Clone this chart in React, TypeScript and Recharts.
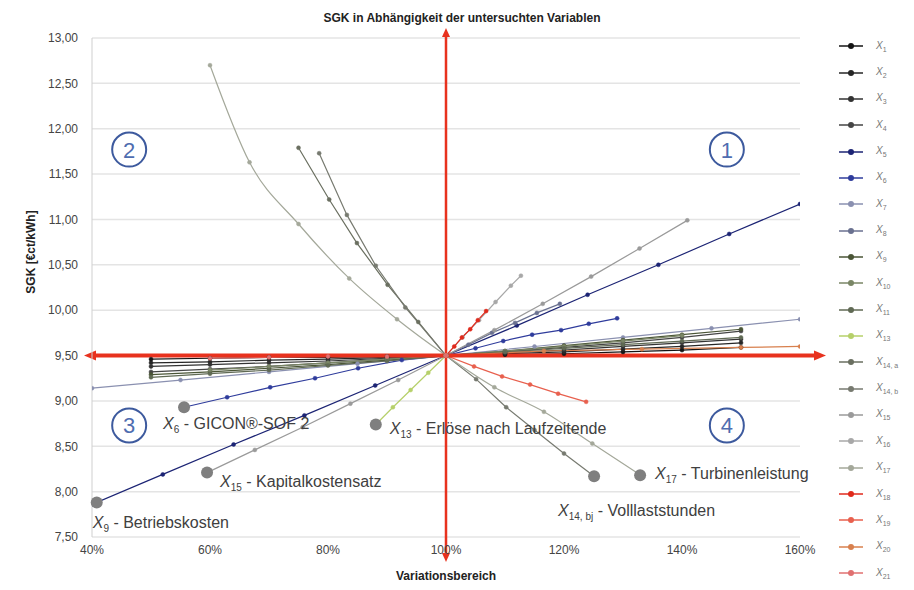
import React from 'react';
import { LineChart, Line, XAxis, YAxis, CartesianGrid, ReferenceLine, ReferenceDot } from 'recharts';

// Variationsbereich (%) and SGK (€ct/kWh)
const X_FLAT = [50, 60, 70, 80, 90, 100, 110, 120, 130, 140, 150];
const X_FLAT_SHORT = [60, 70, 80, 90, 100, 110, 120, 130, 140];
const Y_X1 = [9.46, 9.47, 9.48, 9.48, 9.49, 9.5, 9.51, 9.52, 9.54, 9.56, 9.59];
const Y_X2 = [9.42, 9.43, 9.45, 9.46, 9.48, 9.5, 9.52, 9.54, 9.57, 9.6, 9.64];
const Y_X3 = [9.38, 9.4, 9.42, 9.44, 9.47, 9.5, 9.53, 9.56, 9.6, 9.64, 9.68];
const Y_X4 = [9.32, 9.35, 9.38, 9.42, 9.46, 9.5, 9.54, 9.59, 9.64, 9.7, 9.77];
const Y_X9 = [9.29, 9.32, 9.36, 9.4, 9.45, 9.5, 9.55, 9.61, 9.67, 9.73, 9.79];
const Y_X10 = [9.34, 9.38, 9.42, 9.46, 9.5, 9.55, 9.6, 9.66, 9.72];
const Y_X11 = [9.26, 9.3, 9.34, 9.39, 9.44, 9.5, 9.54, 9.58, 9.62, 9.66, 9.7];

const X_X5 = [40, 52, 64, 76, 88, 100, 112, 124, 136, 148, 160];
const Y_X5 = [7.86, 8.19, 8.52, 8.84, 9.17, 9.5, 9.83, 10.17, 10.5, 10.84, 11.17];
const X_X6 = [55.6, 62.9, 70.2, 77.8, 85.1, 92.5, 100, 105, 109.7, 114.6, 119.5, 124.2, 129];
const Y_X6 = [8.93, 9.04, 9.15, 9.25, 9.36, 9.45, 9.5, 9.58, 9.66, 9.73, 9.78, 9.85, 9.91];
const X_X7 = [40, 55, 70, 85, 100, 115, 130, 145, 160];
const Y_X7 = [9.14, 9.23, 9.32, 9.41, 9.5, 9.6, 9.7, 9.8, 9.9];
const X_X8 = [100, 103.8, 107.8, 111.7, 115.4, 119.3];
const Y_X8 = [9.5, 9.62, 9.75, 9.86, 9.97, 10.07];
const X_X13 = [88.1, 91, 94, 97, 100];
const Y_X13 = [8.74, 8.93, 9.12, 9.31, 9.5];
const X_X14A = [75, 80.2, 84.9, 90.1, 95.3, 100];
const Y_X14A = [11.79, 11.22, 10.74, 10.28, 9.87, 9.5];
const X_X14B = [78.5, 83.2, 88.1, 93.1, 100, 105.1, 110.2, 115, 120, 125.1];
const Y_X14B = [11.73, 11.05, 10.49, 10.03, 9.5, 9.24, 8.93, 8.68, 8.42, 8.17];
const X_X15 = [59.5, 67.6, 75.7, 83.8, 91.9, 100, 108.2, 116.4, 124.6, 132.8, 140.9];
const Y_X15 = [8.21, 8.46, 8.71, 8.97, 9.23, 9.5, 9.78, 10.07, 10.37, 10.68, 10.99];
const X_X16 = [100, 102.8, 105.6, 108.4, 111, 112.7];
const Y_X16 = [9.5, 9.7, 9.89, 10.09, 10.27, 10.38];
const X_X17 = [60, 66.7, 75, 83.6, 91.7, 100, 108.2, 116.6, 124.8, 133];
const Y_X17 = [12.7, 11.63, 10.95, 10.35, 9.9, 9.5, 9.15, 8.88, 8.53, 8.18];
const X_X18 = [100, 101.4, 102.7, 104.1, 105.4, 106.8];
const Y_X18 = [9.5, 9.6, 9.7, 9.79, 9.89, 9.99];
const X_X19 = [100, 104.75, 109.5, 114.25, 119, 123.75];
const Y_X19 = [9.5, 9.38, 9.27, 9.18, 9.08, 8.99];
const X_X20 = [100, 116.6, 133.2, 150, 160];
const Y_X20 = [9.5, 9.55, 9.57, 9.59, 9.6];
const X_X21 = [60, 70, 80, 90, 100];
const Y_X21 = [9.47, 9.48, 9.49, 9.49, 9.5];

const X_TICKS = [40, 60, 80, 100, 120, 140, 160];
const Y_TICKS = [7.5, 8, 8.5, 9, 9.5, 10, 10.5, 11, 11.5, 12, 12.5, 13];

const toPts = (xs: number[], ys: number[]) => xs.map((x, i) => ({ x, y: ys[i] }));

const SERIES = [
  { sub: '1', color: '#141414', data: toPts(X_FLAT, Y_X1) },
  { sub: '2', color: '#262626', data: toPts(X_FLAT, Y_X2) },
  { sub: '3', color: '#333333', data: toPts(X_FLAT, Y_X3) },
  { sub: '4', color: '#454545', data: toPts(X_FLAT, Y_X4) },
  { sub: '5', color: '#1c2474', data: toPts(X_X5, Y_X5) },
  { sub: '6', color: '#2f3c9c', data: toPts(X_X6, Y_X6) },
  { sub: '7', color: '#8a90b0', data: toPts(X_X7, Y_X7) },
  { sub: '8', color: '#6a7190', data: toPts(X_X8, Y_X8) },
  { sub: '9', color: '#4a5536', data: toPts(X_FLAT, Y_X9) },
  { sub: '10', color: '#7a8666', data: toPts(X_FLAT_SHORT, Y_X10) },
  { sub: '11', color: '#606a54', data: toPts(X_FLAT, Y_X11) },
  { sub: '13', color: '#b6d06a', data: toPts(X_X13, Y_X13) },
  { sub: '14, a', color: '#6a6f60', data: toPts(X_X14A, Y_X14A) },
  { sub: '14, b', color: '#777a70', data: toPts(X_X14B, Y_X14B) },
  { sub: '15', color: '#9a9a9a', data: toPts(X_X15, Y_X15) },
  { sub: '16', color: '#a8a8a8', data: toPts(X_X16, Y_X16) },
  { sub: '17', color: '#a4a89a', data: toPts(X_X17, Y_X17) },
  { sub: '18', color: '#e02a1c', data: toPts(X_X18, Y_X18) },
  { sub: '19', color: '#e8604e', data: toPts(X_X19, Y_X19) },
  { sub: '20', color: '#d8804e', data: toPts(X_X20, Y_X20) },
  { sub: '21', color: '#e07070', data: toPts(X_X21, Y_X21) },
];

const RED = '#e8321e';
const FONT = '"Liberation Sans", Arial, sans-serif';

const HArrow = (p: any) => {
  const y = p.y1;
  const l = Math.min(p.x1, p.x2) - 8;
  const r = Math.max(p.x1, p.x2) + 26;
  return (
    <g>
      <line x1={l + 8} y1={y} x2={r - 8} y2={y} stroke={RED} strokeWidth={4} />
      <polygon points={`${l},${y} ${l + 12},${y - 5} ${l + 12},${y + 5}`} fill={RED} />
      <polygon points={`${r},${y} ${r - 12},${y - 5} ${r - 12},${y + 5}`} fill={RED} />
    </g>
  );
};

const VArrow = (p: any) => {
  const x = p.x1;
  const t = Math.min(p.y1, p.y2) - 10;
  const b = Math.max(p.y1, p.y2) + 25;
  return (
    <g>
      <line x1={x} y1={t + 6} x2={x} y2={b - 6} stroke={RED} strokeWidth={2.5} />
      <polygon points={`${x},${t} ${x - 4},${t + 9} ${x + 4},${t + 9}`} fill={RED} />
      <polygon points={`${x},${b} ${x - 4},${b - 9} ${x + 4},${b - 9}`} fill={RED} />
    </g>
  );
};

const quadrant = (n: string) => (p: any) => (
  <g>
    <circle cx={p.cx} cy={p.cy} r={17} fill="#fff" stroke="#3d5a9e" strokeWidth={2} />
    <text x={p.cx} y={p.cy + 8} textAnchor="middle" fontSize={22} fill="#4f6db0" fontFamily={FONT}>{n}</text>
  </g>
);

const note = (sub: string, text: string, dx: number, dy: number) => (p: any) => (
  <g>
    <circle cx={p.cx} cy={p.cy} r={6} fill="#7f7f7f" />
    <text x={p.cx + dx} y={p.cy + dy} fontSize={16} fill="#404040" fontFamily={FONT}>
      <tspan fontStyle="italic">X</tspan>
      <tspan fontSize={10} dy={4}>{sub}</tspan>
      <tspan dy={-4}>{' - ' + text}</tspan>
    </text>
  </g>
);

export default function App() {
  return (
    <div style={{ position: 'absolute', left: 0, top: 0, width: 914, height: 590, background: '#fff', fontFamily: FONT }}>
      <div style={{ position: 'absolute', left: 0, width: 924, top: 11, textAlign: 'center', fontSize: 12, fontWeight: 'bold', color: '#222' }}>
        SGK in Abhängigkeit der untersuchten Variablen
      </div>
      <div style={{ position: 'absolute', left: 346, width: 200, top: 569, textAlign: 'center', fontSize: 12, fontWeight: 'bold', color: '#222' }}>
        Variationsbereich
      </div>
      <div style={{ position: 'absolute', left: 31, top: 252, transform: 'translate(-50%, -50%) rotate(-90deg)', whiteSpace: 'nowrap', fontSize: 12, fontWeight: 'bold', color: '#222' }}>
        SGK [€ct/kWh]
      </div>
      <LineChart width={914} height={590} margin={{ top: 38, right: 114, bottom: 0, left: 32 }}>
        <CartesianGrid vertical={false} stroke="#e4e4e4" strokeWidth={1.5} />
        <XAxis
          dataKey="x"
          type="number"
          domain={[40, 160]}
          ticks={X_TICKS}
          tickFormatter={(v: number) => `${v}%`}
          height={53}
          axisLine={false}
          tickLine={false}
          tick={{ fontSize: 12, fill: '#444', fontFamily: FONT }}
          allowDataOverflow
        />
        <YAxis
          dataKey="y"
          type="number"
          domain={[7.5, 13]}
          ticks={Y_TICKS}
          tickFormatter={(v: number) => v.toFixed(2).replace('.', ',')}
          width={60}
          axisLine={{ stroke: '#cfcfcf' }}
          tickLine={false}
          tickMargin={8}
          tick={{ fontSize: 12, fill: '#444', fontFamily: FONT }}
          allowDataOverflow
        />
        {SERIES.map((s) => (
          <Line
            key={s.sub}
            data={s.data}
            dataKey="y"
            name={`X${s.sub}`}
            type={s.sub === '17' ? 'monotone' : 'linear'}
            stroke={s.color}
            strokeWidth={1.2}
            dot={{ r: 2, fill: s.color, stroke: s.color, strokeWidth: 0.5 }}
            isAnimationActive={false}
          />
        ))}
        <ReferenceLine y={9.5} shape={HArrow} />
        <ReferenceLine x={100} shape={VArrow} />
        <ReferenceDot x={147.6} y={11.77} r={17} shape={quadrant('1')} />
        <ReferenceDot x={46.3} y={11.77} r={17} shape={quadrant('2')} />
        <ReferenceDot x={46.3} y={8.73} r={17} shape={quadrant('3')} />
        <ReferenceDot x={147.6} y={8.73} r={17} shape={quadrant('4')} />
        <ReferenceDot x={55.6} y={8.93} r={6} shape={note('6', 'GICON®-SOF 2', -21, 22)} />
        <ReferenceDot x={88.1} y={8.74} r={6} shape={note('13', 'Erlöse nach Laufzeitende', 14, 10)} />
        <ReferenceDot x={59.5} y={8.21} r={6} shape={note('15', 'Kapitalkostensatz', 13, 14)} />
        <ReferenceDot x={40.8} y={7.88} r={6} shape={note('9', 'Betriebskosten', -4, 25)} />
        <ReferenceDot x={132.9} y={8.18} r={6} shape={note('17', 'Turbinenleistung', 15, 4)} />
        <ReferenceDot x={125.1} y={8.17} r={6} shape={note('14, bj', 'Volllaststunden', -36, 40)} />
      </LineChart>
      <div style={{ position: 'absolute', left: 836, top: 33, width: 78 }}>
        {SERIES.map((s) => (
          <div key={s.sub} style={{ height: 26.35, display: 'flex', alignItems: 'center' }}>
            <svg width={30} height={10}>
              <line x1={3} y1={5} x2={27} y2={5} stroke={s.color} strokeWidth={1.5} />
              <circle cx={15} cy={5} r={3} fill={s.color} />
            </svg>
            <span style={{ marginLeft: 10, fontSize: 10, color: '#777' }}>
              <i>X</i>
              <sub style={{ fontSize: 7 }}>{s.sub}</sub>
            </span>
          </div>
        ))}
      </div>
    </div>
  );
}
